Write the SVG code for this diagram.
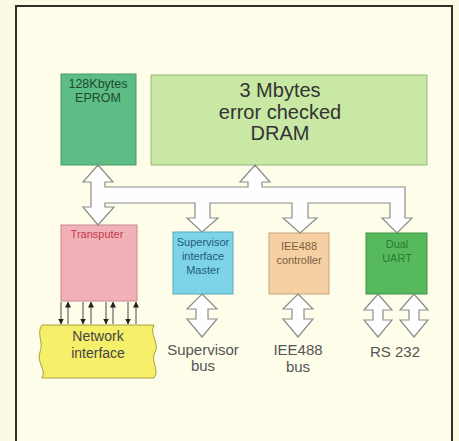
<svg xmlns="http://www.w3.org/2000/svg" width="459" height="441" viewBox="0 0 459 441">
<defs>
<style>
text{font-family:"Liberation Sans",Arial,sans-serif;text-anchor:middle}
.box{stroke-width:1}
.big{fill:#fefefe;stroke:#8c8c8c;stroke-width:1.2;stroke-linejoin:miter}
.lbl{font-size:15px;fill:#555}
.thin{stroke:#333;stroke-width:0.9;fill:none}
</style>
<marker id="ah" viewBox="0 0 6 6" refX="5.5" refY="3" markerWidth="6" markerHeight="6" markerUnits="userSpaceOnUse" orient="auto">
<path d="M0,0 L6,3 L0,6 Z" fill="#222"/>
</marker>
</defs>
<rect x="0" y="0" width="459" height="441" fill="#fbfbe4"/>
<rect x="16" y="6" width="436" height="445" fill="#fdfdea" stroke="#2e2e2a" stroke-width="2"/>

<g id="eprom">
<rect class="box" x="61" y="74" width="75" height="91" fill="#5dbd85" stroke="#4a9a6a"/>
<text x="98" y="88" font-size="12.5" fill="#1f4a30">128Kbytes</text>
<text x="98" y="102" font-size="12.5" fill="#1f4a30">EPROM</text>
</g>

<g id="dram">
<rect class="box" x="151" y="75" width="276" height="90" fill="#c8e8a4" stroke="#98b880"/>
<text x="280" y="97" font-size="20" fill="#333">3 Mbytes</text>
<text x="280" y="119" font-size="20" fill="#333">error checked</text>
<text x="280" y="140" font-size="20" fill="#333">DRAM</text>
</g>

<g id="transputer">
<rect class="box" x="61" y="225" width="76" height="76" fill="#f2b1b8" stroke="#c88890"/>
<text x="97" y="238" font-size="11" fill="#c23a4a">Transputer</text>
</g>

<g id="supervisor">
<rect class="box" x="173" y="232" width="60" height="62" fill="#7dd3e8" stroke="#5aa8bf"/>
<text x="203" y="246" font-size="11" fill="#1d5d7a">Supervisor</text>
<text x="203" y="260" font-size="11" fill="#1d5d7a">interface</text>
<text x="203" y="274" font-size="11" fill="#1d5d7a">Master</text>
</g>

<g id="iee488">
<rect class="box" x="269" y="233" width="60" height="61" fill="#f6cfa3" stroke="#c8a47c"/>
<text x="299" y="250" font-size="11" fill="#7a6040">IEE488</text>
<text x="299" y="264" font-size="11" fill="#7a6040">controller</text>
</g>

<g id="uart">
<rect class="box" x="366" y="233" width="61" height="61" fill="#56ba5c" stroke="#3f9445"/>
<text x="397" y="248" font-size="11" fill="#2a7a32">Dual</text>
<text x="397" y="262" font-size="11" fill="#2a7a32">UART</text>
</g>

<g id="network">
<path d="M42 325 L154 325 C149 334,160 344,155 352 C150 361,160 370,154 378 L42 378 C47 370,36 362,40 352 C44 343,36 333,42 325 Z" fill="#f6ef6a" stroke="#a8a040" stroke-width="1"/>
<text x="98" y="341" font-size="14" fill="#444">Network</text>
<text x="98" y="358" font-size="14" fill="#444">interface</text>
</g>

<g id="connectors">
<path class="big" d="M98 165 L113 182 L105 182 L105 187 L248 187 L248 182 L240 182 L255 165 L270 182 L262 182 L262 187 L405 187 L405 218 L412 218 L397 233 L382 218 L390 218 L390 203 L308 203 L308 218 L317 218 L300 233 L283 218 L292 218 L292 203 L210 203 L210 218 L218 218 L202 232 L187 218 L195 218 L195 203 L105 203 L105 207 L114 207 L98 225 L83 207 L91 207 L91 182 L83 182 Z"/>
<path class="big" d="M202 294 L217 309 L208 309 L208 319 L217 319 L202 337 L187 319 L196 319 L196 309 L187 309 Z"/>
<path class="big" d="M298 294 L313 309 L304 309 L304 319 L313 319 L298 337 L283 319 L292 319 L292 309 L283 309 Z"/>
<path class="big" d="M378 294 L392 310 L383 310 L383 320 L392 320 L378 337 L364 320 L373 320 L373 310 L364 310 Z"/>
<path class="big" d="M414 294 L428 310 L419 310 L419 320 L428 320 L414 337 L400 320 L409 320 L409 310 L400 310 Z"/>
<line class="thin" x1="61" y1="302" x2="61" y2="324" marker-end="url(#ah)"/>
<line class="thin" x1="83" y1="302" x2="83" y2="324" marker-end="url(#ah)"/>
<line class="thin" x1="106" y1="302" x2="106" y2="324" marker-end="url(#ah)"/>
<line class="thin" x1="128" y1="302" x2="128" y2="324" marker-end="url(#ah)"/>
<line class="thin" x1="68" y1="324" x2="68" y2="302" marker-end="url(#ah)"/>
<line class="thin" x1="91" y1="324" x2="91" y2="302" marker-end="url(#ah)"/>
<line class="thin" x1="113" y1="324" x2="113" y2="302" marker-end="url(#ah)"/>
<line class="thin" x1="136" y1="324" x2="136" y2="302" marker-end="url(#ah)"/>
</g>

<g id="labels">
<text class="lbl" x="203" y="355">Supervisor</text>
<text class="lbl" x="203" y="371">bus</text>
<text class="lbl" x="298" y="355">IEE488</text>
<text class="lbl" x="298" y="372">bus</text>
<text class="lbl" x="395" y="357">RS 232</text>
</g>
</svg>
